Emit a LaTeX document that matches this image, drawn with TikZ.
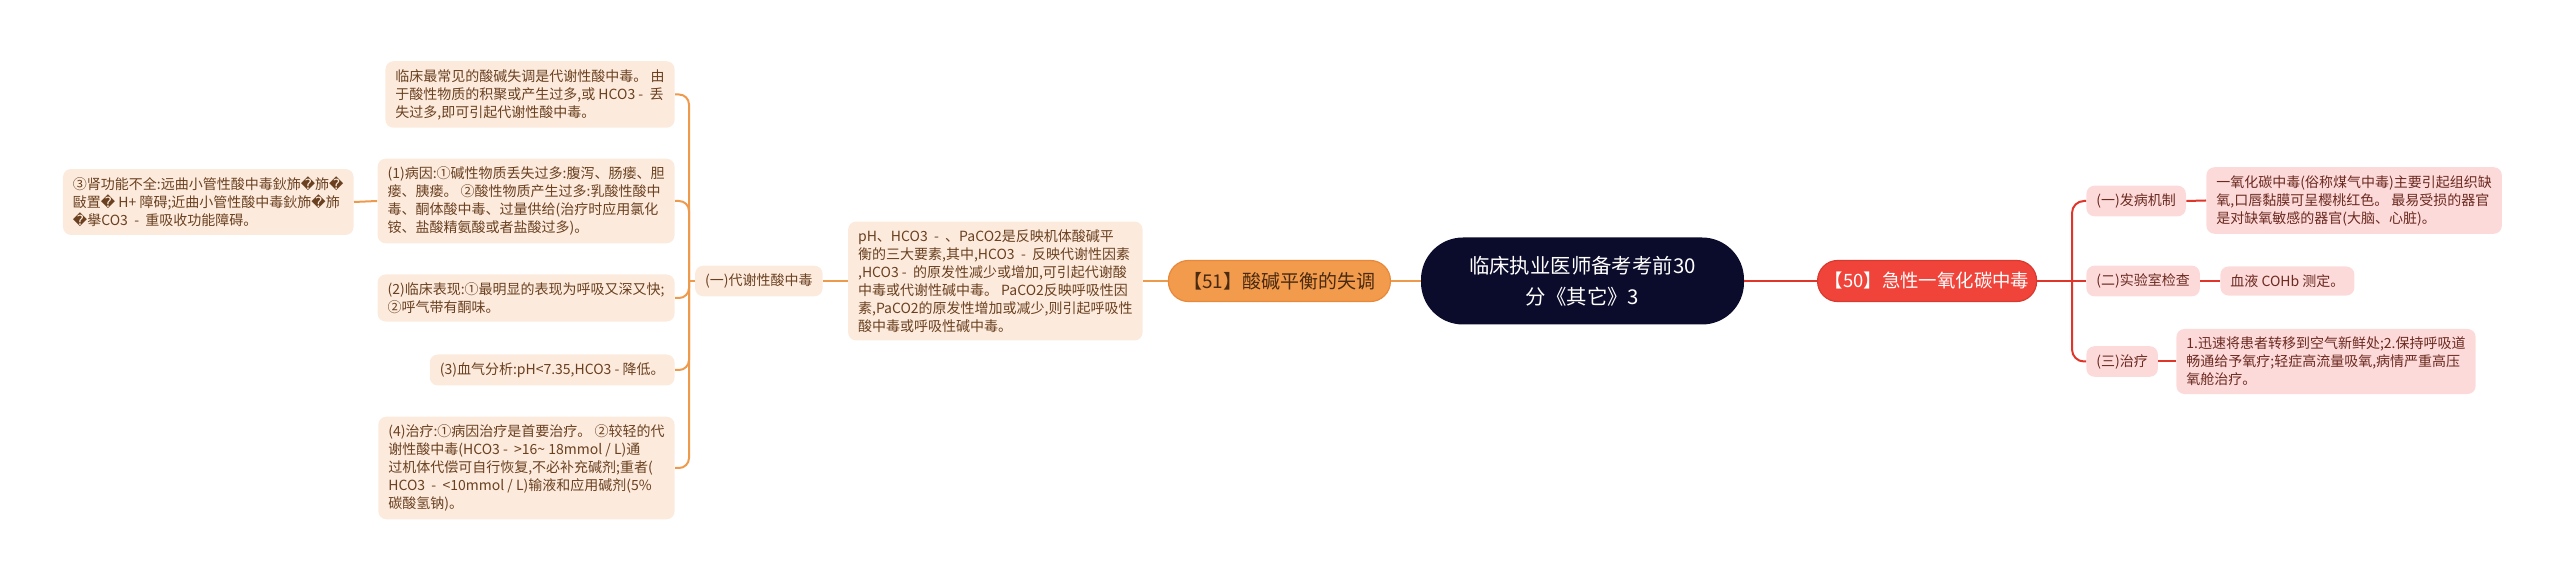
\documentclass[tikz,border=0pt]{standalone}
\usepackage{fontspec}
\setmainfont{Noto Sans CJK SC}
\newfontfamily\dvfont{DejaVu Sans}
\newcommand\repch{{\dvfont\symbol{"FFFD}}}
\definecolor{oline}{HTML}{EE9A4D}
\definecolor{ofill}{HTML}{FCEBDD}
\definecolor{otext}{HTML}{6A4020}
\definecolor{omain}{HTML}{F29B4C}
\definecolor{omainb}{HTML}{E8883A}
\definecolor{omaint}{HTML}{4A2A10}
\definecolor{rootc}{HTML}{0B0B2C}
\definecolor{rline}{HTML}{E0352B}
\definecolor{rmain}{HTML}{F0443A}
\definecolor{rmainb}{HTML}{D93A30}
\definecolor{rfill}{HTML}{FDDADA}
\definecolor{rtext}{HTML}{6B2A20}
\tikzset{
  oleaf/.style={fill=ofill, text=otext, rounded corners=4pt, font=\fontsize{7}{9}\selectfont, align=left, inner xsep=5pt, inner ysep=4pt},
  rleaf/.style={fill=rfill, text=rtext, rounded corners=4pt, font=\fontsize{7}{9}\selectfont, align=left, inner xsep=5pt, inner ysep=4pt},
  olink/.style={draw=oline, line width=1pt, rounded corners=5pt},
  rlink/.style={draw=rline, line width=1pt, rounded corners=6pt},
  rootbox/.style={fill=rootc, text=white, rounded corners=21pt, font=\fontsize{10.2}{15.5}\selectfont, align=center, minimum width=161.5pt, minimum height=43.5pt},
  omainbox/.style={fill=omain, draw=omainb, line width=0.6pt, text=omaint, rounded corners=10pt, font=\fontsize{9.5}{12}\selectfont, minimum width=111pt, minimum height=20.5pt},
  rmainbox/.style={fill=rmain, draw=rmainb, line width=0.6pt, text=white, rounded corners=10pt, font=\fontsize{9.2}{12}\selectfont, minimum width=109.5pt, minimum height=20.5pt, inner xsep=3pt}
}
\begin{document}
\begin{tikzpicture}[x=0.5pt,y=-0.5pt]
\useasboundingbox (0,0) rectangle (2560,581);
% root and main branches
\node[rootbox] (root) at (1582.5,281) {临床执业医师备考考前30\\分《其它》3};
\node[omainbox, anchor=east] (m51) at (1391,281) {【51】酸碱平衡的失调};
\node[rmainbox, anchor=west] (m50) at (1817,281) {【50】急性一氧化碳中毒};
% left side
\node[oleaf, anchor=east] (ph) at (1143,281) {pH、HCO3 \ - \ 、PaCO2是反映机体酸碱平\\衡的三大要素,其中,HCO3 \ - \ 反映代谢性因素\\,HCO3 - \ 的原发性减少或增加,可引起代谢酸\\中毒或代谢性碱中毒。 PaCO2反映呼吸性因\\素,PaCO2的原发性增加或减少,则引起呼吸性\\酸中毒或呼吸性碱中毒。};
\node[oleaf, anchor=east] (c1) at (823,281) {(一)代谢性酸中毒};
\node[oleaf, anchor=east] (l1) at (675,94.5) {临床最常见的酸碱失调是代谢性酸中毒。 由\\于酸性物质的积聚或产生过多,或 HCO3 - \ 丢\\失过多,即可引起代谢性酸中毒。};
\node[oleaf, anchor=east] (l2) at (675,201) {(1)病因:①碱性物质丢失过多:腹泻、肠瘘、胆\\瘘、胰瘘。 ②酸性物质产生过多:乳酸性酸中\\毒、酮体酸中毒、过量供给(治疗时应用氯化\\铵、盐酸精氨酸或者盐酸过多)。};
\node[oleaf, anchor=east] (l3) at (675,298) {(2)临床表现:①最明显的表现为呼吸又深又快;\\②呼气带有酮味。};
\node[oleaf, anchor=east] (l4) at (675,370) {(3)血气分析:pH<7.35,HCO3 - 降低。};
\node[oleaf, anchor=east] (l5) at (675,468) {(4)治疗:①病因治疗是首要治疗。 ②较轻的代\\谢性酸中毒(HCO3 - \ >16\textasciitilde{} 18mmol / L)通\\过机体代偿可自行恢复,不必补充碱剂;重者(\\HCO3 \ - \ <10mmol / L)输液和应用碱剂(5\%\\碳酸氢钠)。};
\node[oleaf, anchor=east] (l0) at (354,202) {③肾功能不全:远曲小管性酸中毒鈥斾\repch 斾\repch\\敺置\repch{} H+ 障碍;近曲小管性酸中毒鈥斾\repch 斾\\\repch 擧CO3 \ - \ 重吸收功能障碍。};
% right side
\node[rleaf, anchor=west] (r1) at (2086,201) {(一)发病机制};
\node[rleaf, anchor=west] (r1t) at (2206,200.5) {一氧化碳中毒(俗称煤气中毒)主要引起组织缺\\氧,口唇黏膜可呈樱桃红色。 最易受损的器官\\是对缺氧敏感的器官(大脑、心脏)。};
\node[rleaf, anchor=west] (r2) at (2086,281) {(二)实验室检查};
\node[rleaf, anchor=west] (r2t) at (2220,281) {血液 COHb 测定。};
\node[rleaf, anchor=west] (r3) at (2086,361.5) {(三)治疗};
\node[rleaf, anchor=west] (r3t) at (2176,361.5) {1.迅速将患者转移到空气新鲜处;2.保持呼吸道\\畅通给予氧疗;轻症高流量吸氧,病情严重高压\\氧舱治疗。};
% connectors left
\coordinate (lb) at (689,281);
\draw[olink] (root.west) -- (m51.east);
\draw[olink] (m51.west) -- (ph.east);
\draw[olink] (ph.west) -- (c1.east);
\draw[olink] (c1.west) -- (lb);
\draw[olink] (lb) |- (l1.east);
\draw[olink] (lb) |- (l2.east);
\draw[olink] (lb) |- (l3.east);
\draw[olink] (lb) |- (l4.east);
\draw[olink] (lb) |- (l5.east);
\draw[olink] (l2.west) -- (l0.east);
% connectors right
\coordinate (rb) at (2072,281);
\draw[rlink] (root.east) -- (m50.west);
\draw[rlink] (m50.east) -- (rb);
\draw[rlink] (rb) |- (r1.west);
\draw[rlink] (rb) -- (r2.west);
\draw[rlink] (rb) |- (r3.west);
\draw[rlink] (r1.east) -- (r1t.west);
\draw[rlink] (r2.east) -- (r2t.west);
\draw[rlink] (r3.east) -- (r3t.west);
\end{tikzpicture}
\end{document}
